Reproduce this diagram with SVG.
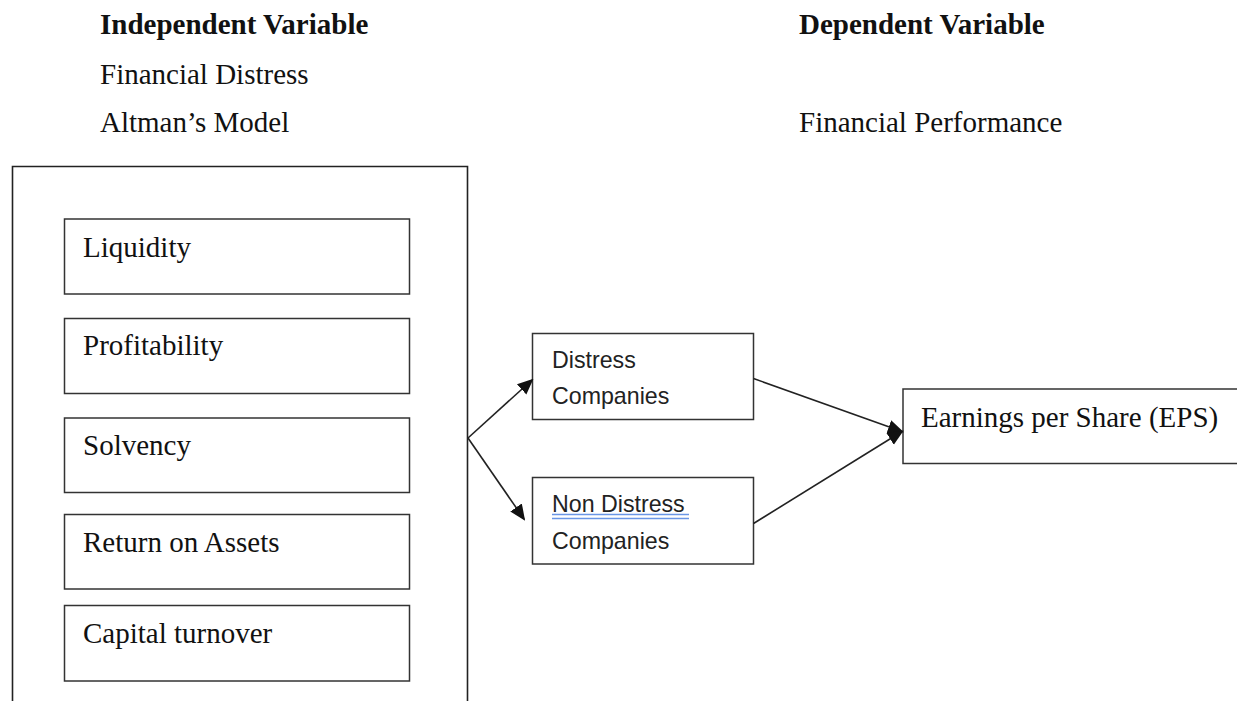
<svg xmlns="http://www.w3.org/2000/svg" width="1237" height="701" viewBox="0 0 1237 701">
<style>
.t{font-family:"Liberation Serif","Times New Roman",serif;font-size:29px;fill:#111}
.b{font-weight:bold}
.s{font-family:"Liberation Sans",Arial,sans-serif;font-size:23.2px;fill:#222}
.box{fill:#fff;stroke:#333;stroke-width:1.5}
.outer{fill:none;stroke:#222;stroke-width:1.6}
.con{stroke:#222;stroke-width:1.6;fill:none}
</style>
<defs>
<marker id="ah2" markerWidth="16" markerHeight="16" refX="14" refY="8" orient="auto" markerUnits="userSpaceOnUse" viewBox="0 0 16 16">
<path d="M0,1 L16,8 L0,15 Z" fill="#111"/>
</marker>
</defs>
<rect width="1237" height="701" fill="#fff"/>
<g id="headings">
<text class="t b" x="100" y="34">Independent Variable</text>
<text class="t" x="100" y="84">Financial Distress</text>
<text class="t" x="100" y="132">Altman’s Model</text>
<text class="t b" x="799" y="34">Dependent Variable</text>
<text class="t" x="799" y="132">Financial Performance</text>
</g>
<g id="outer-box">
<path class="outer" d="M12.5,710 V166.5 H467.5 V710"/>
</g>
<g id="liquidity">
<rect class="box" x="64.5" y="219" width="345" height="75"/>
<text class="t" x="83" y="257">Liquidity</text>
</g>
<g id="profitability">
<rect class="box" x="64.5" y="318.5" width="345" height="75"/>
<text class="t" x="83" y="355">Profitability</text>
</g>
<g id="solvency">
<rect class="box" x="64.5" y="418" width="345" height="74.5"/>
<text class="t" x="83" y="455">Solvency</text>
</g>
<g id="roa">
<rect class="box" x="64.5" y="514.5" width="345" height="74.5"/>
<text class="t" x="83" y="552">Return on Assets</text>
</g>
<g id="capital-turnover">
<rect class="box" x="64.5" y="605.5" width="345" height="75.5"/>
<text class="t" x="83" y="643">Capital turnover</text>
</g>
<g id="distress">
<rect class="box" x="532.5" y="333.5" width="221" height="86"/>
<text class="s" x="552" y="368">Distress</text>
<text class="s" x="552" y="404">Companies</text>
</g>
<g id="non-distress">
<rect class="box" x="532.5" y="477.5" width="221" height="86.5"/>
<text class="s" x="552" y="512">Non Distress</text>
<line x1="552" y1="514.5" x2="689" y2="514.5" stroke="#6a96e6" stroke-width="1.3"/>
<line x1="552" y1="518.5" x2="689" y2="518.5" stroke="#6a96e6" stroke-width="1.3"/>
<text class="s" x="552" y="549">Companies</text>
</g>
<g id="eps">
<rect class="box" x="903" y="389" width="345" height="74.5"/>
<text class="t" x="921" y="427">Earnings per Share (EPS)</text>
</g>
<g id="connectors">
<line class="con" x1="468" y1="438" x2="532" y2="380" marker-end="url(#ah2)"/>
<line class="con" x1="468" y1="438" x2="524" y2="519" marker-end="url(#ah2)"/>
<line class="con" x1="753.5" y1="378.5" x2="902" y2="431.5" marker-end="url(#ah2)"/>
<line class="con" x1="753.5" y1="523.5" x2="902" y2="431.5" marker-end="url(#ah2)"/>
</g>
</svg>
